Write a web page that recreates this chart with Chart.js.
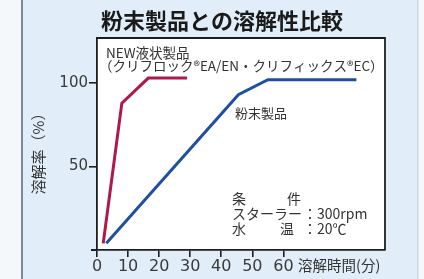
<!DOCTYPE html>
<html>
<head>
<meta charset="utf-8">
<script src="https://cdn.jsdelivr.net/npm/chart.js@4"></script>
<style>
  html, body { margin: 0; padding: 0; background: #f4f8fb; }
  #wrap { width: 424px; height: 279px; position: relative; }
</style>
</head>
<body>
<div id="wrap"><canvas id="grafico"></canvas></div>
<script>
// 溶解データ
const liquidTime = [2, 8, 16.5, 29];
const liquidRate = [4, 88, 103, 103];
const powderTime = [3, 45.5, 55, 83.5];
const powderRate = [4, 93, 102, 102];
const xTicks = [0, 10, 20, 30, 40, 50, 60];
const yTicks = [50, 100];

const JP = '"Noto Sans CJK JP", "Noto Sans", sans-serif';
const NUM = '"DejaVu Sans", sans-serif';

function toPoints(xs, ys) {
    return xs.map((x, i) => ({ x: x, y: ys[i] }));
}

// 背景・枠・文字を描くプラグイン
const marco = {
    id: 'marco',
    beforeDraw(chart) {
        const ctx = chart.ctx;
        const a = chart.chartArea;
        ctx.save();
        ctx.fillStyle = '#f4f8fb';
        ctx.fillRect(0, 0, 424, 279);
        ctx.fillStyle = '#e1eef9';
        ctx.fillRect(22, 0, 396, 279);
        ctx.fillStyle = '#7d889c';
        ctx.fillRect(21, 0, 2, 279);
        ctx.fillStyle = '#c9d6e3';
        ctx.fillRect(417, 0, 1.5, 279);
        ctx.fillStyle = '#ffffff';
        ctx.fillRect(a.left, a.top, a.right - a.left, a.bottom - a.top);
        ctx.restore();
    },
    afterDraw(chart) {
        const ctx = chart.ctx;
        const a = chart.chartArea;
        ctx.save();
        // 枠（上・右）と軸の延長
        ctx.strokeStyle = '#1e1e1e';
        ctx.lineWidth = 1.8;
        ctx.beginPath();
        ctx.moveTo(a.left, a.top);
        ctx.lineTo(a.right, a.top);
        ctx.lineTo(a.right, a.bottom);
        ctx.moveTo(91, a.bottom);
        ctx.lineTo(a.left, a.bottom);
        ctx.stroke();

        ctx.fillStyle = '#1a1a1a';
        ctx.textBaseline = 'middle';
        ctx.textAlign = 'center';
        ctx.font = 'bold 22px ' + JP;
        ctx.fillText('粉末製品との溶解性比較', 222, 21);

        ctx.textAlign = 'left';
        ctx.fillStyle = '#333';
        ctx.font = '13.5px ' + JP;
        ctx.fillText('NEW液状製品', 106, 53);
        ctx.fillText('（クリフロック®EA/EN・クリフィックス®EC）', 99, 66);
        ctx.font = '13px ' + JP;
        ctx.fillText('粉末製品', 235, 113);

        ctx.font = '14px ' + JP;
        ctx.fillText('条', 232, 199);
        ctx.fillText('件', 287, 199);
        ctx.fillText('スターラー', 232, 214);
        ctx.fillText('：300rpm', 303, 214);
        ctx.fillText('水', 232, 229);
        ctx.fillText('温', 280, 229);
        ctx.fillText('：20℃', 303, 229);

        ctx.font = '14.5px ' + JP;
        ctx.fillText('溶解時間(分)', 298, 265);

        ctx.translate(38, 150);
        ctx.rotate(-Math.PI / 2);
        ctx.textAlign = 'center';
        ctx.font = '15px ' + JP;
        ctx.fillText('溶解率（%）', 0, 0);
        ctx.restore();
    }
};

const ctx = document.getElementById('grafico').getContext('2d');
const chart = new Chart(ctx, {
    type: 'line',
    data: {
        datasets: [{
            label: 'NEW液状製品',
            data: toPoints(liquidTime, liquidRate),
            borderColor: '#b01848',
            borderWidth: 3,
            pointRadius: 0,
            tension: 0,
            fill: false
        }, {
            label: '粉末製品',
            data: toPoints(powderTime, powderRate),
            borderColor: '#1f4f9e',
            borderWidth: 3,
            pointRadius: 0,
            tension: 0,
            fill: false
        }]
    },
    options: {
        responsive: true,
        maintainAspectRatio: false,
        animation: false,
        layout: { padding: { top: 38, right: 39, left: 0, bottom: 0 } },
        plugins: { legend: { display: false }, title: { display: false }, tooltip: { enabled: false } },
        scales: {
            x: {
                type: 'linear',
                min: 0,
                max: 92.7,
                afterFit: s => { s.height = 29; },
                afterBuildTicks: s => { s.ticks = xTicks.map(v => ({ value: v })); },
                grid: { drawOnChartArea: false, drawTicks: true, tickLength: 7, color: '#1e1e1e', lineWidth: 1.6 },
                border: { display: true, color: '#1e1e1e', width: 1.8 },
                ticks: {
                    autoSkip: false, maxRotation: 0, padding: 0,
                    color: '#3a3a3a', font: { family: NUM, size: 16 }
                }
            },
            y: {
                min: 0,
                max: 127,
                afterFit: s => { s.width = 97; },
                afterBuildTicks: s => { s.ticks = yTicks.map(v => ({ value: v })); },
                grid: { drawOnChartArea: false, drawTicks: true, tickLength: 8, color: '#1e1e1e', lineWidth: 1.6 },
                border: { display: true, color: '#1e1e1e', width: 1.8 },
                ticks: {
                    autoSkip: false, padding: 1,
                    color: '#3a3a3a', font: { family: NUM, size: 15 }
                }
            }
        }
    },
    plugins: [marco]
});
</script>
</body>
</html>
